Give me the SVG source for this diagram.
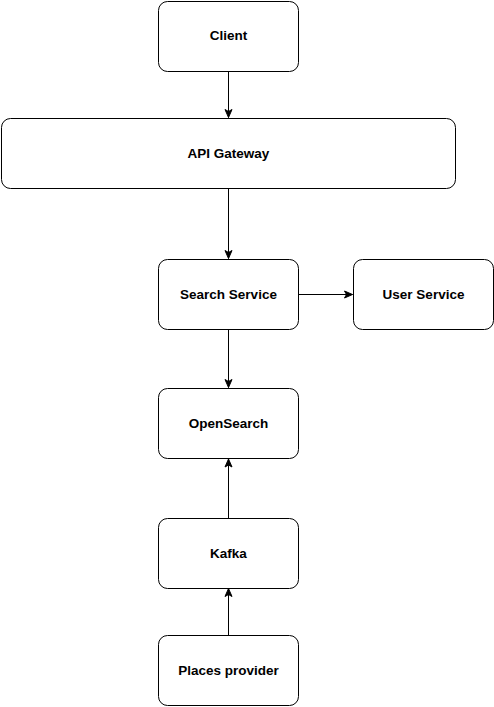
<svg xmlns="http://www.w3.org/2000/svg" width="494" height="707" viewBox="0 0 494 707">
<defs>
<style>
.n{fill:#fff;stroke:#000;stroke-width:1}
.t{font-family:"Liberation Sans",Arial,Helvetica,sans-serif;font-weight:bold;font-size:13.5px;fill:#000;text-anchor:middle;dominant-baseline:central}
.e{stroke:#000;stroke-width:1;fill:none;marker-end:url(#a)}
</style>
<marker id="a" viewBox="0 0 10 10" refX="9" refY="5" markerWidth="10" markerHeight="10" markerUnits="userSpaceOnUse" orient="auto">
<path d="M1,1.5 L9,5 L1,8.5 L3,5 Z" fill="#000" stroke="#000" stroke-width="1"/>
</marker>
</defs>
<rect width="494" height="707" fill="#fff"/>
<g id="edges">
<path class="e" d="M228.5,71.5 V117.5"/>
<path class="e" d="M228.5,188.5 V258.5"/>
<path class="e" d="M298.5,294.5 H352.5"/>
<path class="e" d="M228.5,329.5 V387.5"/>
<path class="e" d="M228.5,518.5 V459"/>
<path class="e" d="M228.5,635.5 V588.5"/>
</g>
<g id="client"><rect class="n" x="158.5" y="1.5" width="140" height="70" rx="9"/><text class="t" x="228.5" y="35.5">Client</text></g>
<g id="api-gateway"><rect class="n" x="1.5" y="118.5" width="454" height="70" rx="9"/><text class="t" x="228.5" y="153">API Gateway</text></g>
<g id="search-service"><rect class="n" x="158.5" y="259.5" width="140" height="70" rx="9"/><text class="t" x="228.5" y="294">Search Service</text></g>
<g id="user-service"><rect class="n" x="353.5" y="259.5" width="140" height="70" rx="9"/><text class="t" x="423.5" y="294">User Service</text></g>
<g id="opensearch"><rect class="n" x="158.5" y="388.5" width="140" height="70" rx="9"/><text class="t" x="228.5" y="423">OpenSearch</text></g>
<g id="kafka"><rect class="n" x="158.5" y="518.5" width="140" height="70" rx="9"/><text class="t" x="228.5" y="553">Kafka</text></g>
<g id="places-provider"><rect class="n" x="158.5" y="635.5" width="140" height="70" rx="9"/><text class="t" x="228.5" y="670">Places provider</text></g>
</svg>
